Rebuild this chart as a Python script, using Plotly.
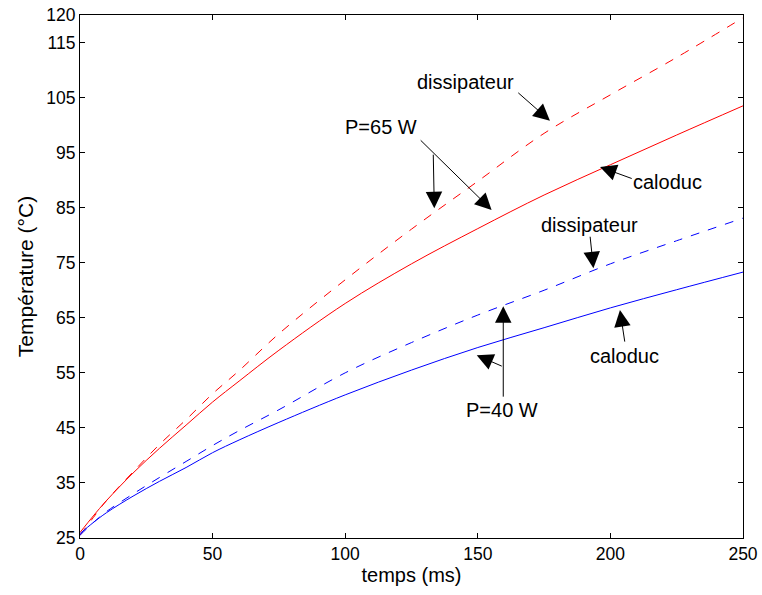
import plotly.graph_objects as go

# temps (ms)
t = [0, 5, 10, 20, 30, 40, 50, 60, 75, 100, 125, 150, 175, 200, 225, 250]

# P = 65 W
diss_65 = [25.5, 28.7, 31.8, 37.0, 42.0, 46.5, 51.2, 55.4, 62.1, 71.9, 81.1, 89.8, 98.5, 105.5, 112.3, 119.5]
calo_65 = [26.0, 29.0, 31.8, 36.8, 41.3, 45.5, 49.7, 53.5, 59.1, 67.6, 74.8, 81.2, 87.3, 92.8, 98.2, 103.5]
# P = 40 W
diss_40 = [25.5, 27.8, 29.8, 33.0, 36.0, 38.9, 41.8, 44.5, 48.3, 55.0, 60.5, 65.5, 70.0, 74.8, 79.0, 83.1]
calo_40 = [25.8, 27.8, 29.6, 32.6, 35.3, 37.8, 40.5, 42.8, 46.0, 51.0, 55.5, 59.6, 63.2, 66.8, 70.1, 73.3]

y_ticks = [25, 35, 45, 55, 65, 75, 85, 95, 105, 115, 120]

# labels: text, x, y
labels = [
    ("dissipateur", 145.4, 107.9),
    ("P=65 W", 113.5, 99.6),
    ("caloduc", 221.5, 89.7),
    ("dissipateur", 192.3, 81.9),
    ("caloduc", 205.5, 58.0),
    ("P=40 W", 159.3, 48.2),
]
# arrows: tip x, tip y, tail x, tail y
arrows = [
    (177.2, 100.8, 164.7, 106.1),
    (133.6, 84.9, 133.2, 94.9),
    (155.2, 84.6, 127.9, 97.5),
    (196.1, 92.4, 208.6, 90.2),
    (193.6, 74.0, 192.3, 80.0),
    (203.6, 66.4, 205.5, 60.4),
    (159.6, 67.1, 159.6, 50.4),
    (149.6, 58.2, 159.6, 56.1),
]

fig = go.Figure()
fig.add_trace(go.Scatter(x=t, y=diss_65, mode='lines', line=dict(color='rgb(255,0,0)', width=1, dash='dash', shape='spline')))
fig.add_trace(go.Scatter(x=t, y=calo_65, mode='lines', line=dict(color='rgb(255,0,0)', width=1, shape='spline')))
fig.add_trace(go.Scatter(x=t, y=diss_40, mode='lines', line=dict(color='rgb(0,0,255)', width=1, dash='dash', shape='spline')))
fig.add_trace(go.Scatter(x=t, y=calo_40, mode='lines', line=dict(color='rgb(0,0,255)', width=1, shape='spline')))

for txt, x, y in labels:
    fig.add_annotation(x=x, y=y, text=txt, showarrow=False,
                       font=dict(family='Liberation Sans', size=20, color='black'))
for x, y, ax, ay in arrows:
    fig.add_annotation(x=x, y=y, ax=ax, ay=ay, axref='x', ayref='y', text='',
                       showarrow=True, arrowhead=2, arrowsize=3.3, arrowwidth=1,
                       arrowcolor='black')

axis_style = dict(showline=True, linecolor='black', linewidth=1, mirror='ticks',
                  ticks='inside', ticklen=5, tickcolor='black', showgrid=False,
                  zeroline=False, automargin=False,
                  tickfont=dict(size=17.5, color='black'))

fig.update_layout(
    width=762, height=595,
    margin=dict(l=80, r=19, t=15, b=57),
    plot_bgcolor='white', paper_bgcolor='white',
    showlegend=False,
    font=dict(family='Liberation Sans', size=17.5, color='black'),
    xaxis=dict(range=[0, 250], tickvals=[0, 50, 100, 150, 200, 250],
               title=dict(text='temps (ms)', font=dict(size=20), standoff=4), **axis_style),
    yaxis=dict(range=[25, 120], tickvals=y_ticks,
               title=dict(text='Température (°C)', font=dict(size=21), standoff=6), **axis_style),
)

fig.write_html("out.html", config={'displayModeBar': False},
               post_script="document.body.style.margin='0';")
